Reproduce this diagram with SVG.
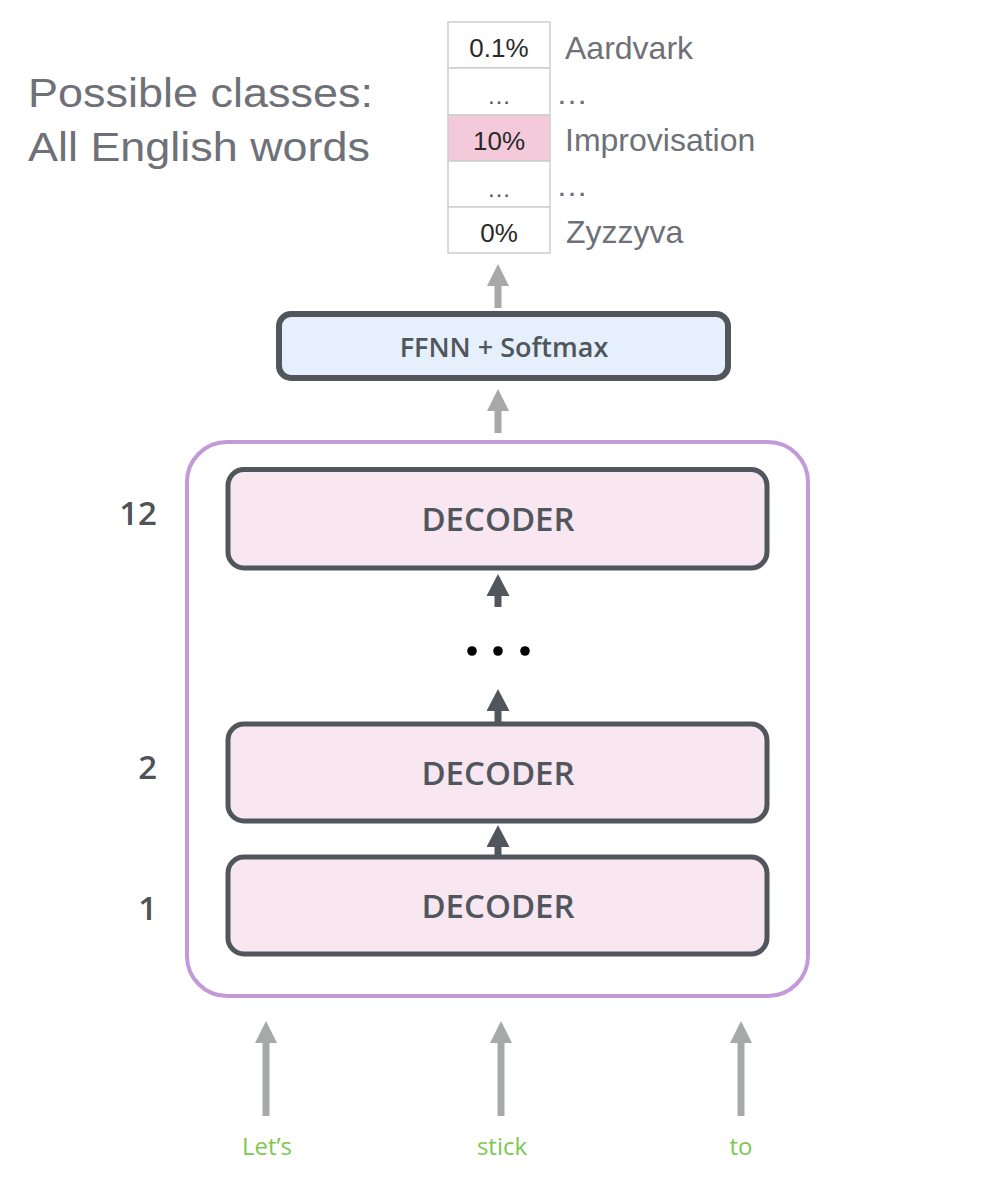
<svg xmlns="http://www.w3.org/2000/svg" width="999" height="1187" viewBox="0 0 999 1187">
<style>
.dec{fill:#f8e7f1;stroke:#51565d;stroke-width:5}
.dect{font-family:"Open Sans","Liberation Sans",sans-serif;font-weight:600;font-size:33px;fill:#51565d;text-anchor:middle}
.num{font-family:"Open Sans","Liberation Sans",sans-serif;font-weight:600;font-size:33px;fill:#505256;text-anchor:end}
.cell{fill:#ffffff;stroke:#cdcfcf;stroke-width:1.5}
.ct{font-family:"Liberation Sans",Arial,sans-serif;font-size:26px;fill:#2a2a2a;text-anchor:middle}
.cd{font-family:"Liberation Sans",Arial,sans-serif;font-size:24px;fill:#555;text-anchor:middle}
.lbl{font-family:"Liberation Sans",Arial,sans-serif;font-size:32px;fill:#6e7177}
.big{font-family:"Liberation Sans",Arial,sans-serif;font-size:41px;fill:#6e7177}
.word{font-family:"Open Sans","Liberation Sans",sans-serif;font-size:24px;fill:#7ec850;text-anchor:middle}
.ga{stroke:#a6a9a7;stroke-width:7;fill:none}
.da{stroke:#51565d;stroke-width:7;fill:none}
</style>
<defs>
<marker id="mg" viewBox="0 0 22 22" markerUnits="userSpaceOnUse" markerWidth="22" markerHeight="22" refX="0" refY="11" orient="auto"><path d="M0,0 L22,11 L0,22 z" fill="#a6a9a7"/></marker>
<marker id="md" viewBox="0 0 22 23" markerUnits="userSpaceOnUse" markerWidth="22" markerHeight="23" refX="0" refY="11.5" orient="auto"><path d="M0,0 L22,11.5 L0,23 z" fill="#51565d"/></marker>
</defs>
<rect width="999" height="1187" fill="#ffffff"/>

<g id="title">
<text class="big" x="28" y="107" textLength="345" lengthAdjust="spacingAndGlyphs">Possible classes:</text>
<text class="big" x="28" y="161" textLength="342" lengthAdjust="spacingAndGlyphs">All English words</text>
</g>

<g id="output-table">
<rect class="cell" x="448" y="22" width="102" height="46"/>
<rect class="cell" x="448" y="68" width="102" height="47"/>
<rect class="cell" x="448" y="115" width="102" height="46" style="fill:#f4cadb"/>
<rect class="cell" x="448" y="161" width="102" height="46"/>
<rect class="cell" x="448" y="207" width="102" height="46"/>
<text class="ct" x="499" y="57">0.1%</text>
<text class="cd" x="499" y="104">…</text>
<text class="ct" x="499" y="150">10%</text>
<text class="cd" x="499" y="197">…</text>
<text class="ct" x="499" y="242">0%</text>
<text class="lbl" x="565" y="59">Aardvark</text>
<text class="lbl" x="556" y="104">…</text>
<text class="lbl" x="565" y="151">Improvisation</text>
<text class="lbl" x="556" y="196">…</text>
<text class="lbl" x="566" y="243">Zyzzyva</text>
</g>

<g id="ffnn">
<rect x="279" y="314" width="449" height="64" rx="12" fill="#e5f0fc" stroke="#51565d" stroke-width="6"/>
<text x="504" y="357" font-family="'Open Sans','Liberation Sans',sans-serif" font-weight="600" font-size="27" fill="#51565d" text-anchor="middle">FFNN + Softmax</text>
</g>

<g id="decoder-stack">
<rect x="187" y="442" width="621" height="554" rx="40" fill="none" stroke="#c29ad8" stroke-width="4"/>
</g>

<g id="decoder-12">
<rect class="dec" x="228" y="469.5" width="539" height="98.5" rx="16"/>
<text class="dect" x="498" y="531">DECODER</text>
<text class="num" x="157" y="525">12</text>
</g>

<g id="ellipsis">
<circle cx="472" cy="651" r="4.8" fill="#000"/>
<circle cx="498" cy="651" r="4.8" fill="#000"/>
<circle cx="525" cy="651" r="4.8" fill="#000"/>
</g>

<g id="decoder-2">
<rect class="dec" x="228" y="724" width="539" height="97" rx="16"/>
<text class="dect" x="498" y="785">DECODER</text>
<text class="num" x="157" y="779">2</text>
</g>

<g id="decoder-1">
<rect class="dec" x="228" y="857" width="539" height="97" rx="16"/>
<text class="dect" x="498" y="918">DECODER</text>
<text class="num" x="157" y="920">1</text>
</g>

<g id="inputs">
<text class="word" x="267" y="1155">Let’s</text>
<text class="word" x="502" y="1155">stick</text>
<text class="word" x="741" y="1155">to</text>
</g>

<g id="connectors">
<line class="ga" x1="498" y1="308" x2="498" y2="286" marker-end="url(#mg)"/>
<line class="ga" x1="498" y1="433" x2="498" y2="411" marker-end="url(#mg)"/>
<line class="da" x1="498" y1="607" x2="498" y2="596" marker-end="url(#md)"/>
<line class="da" x1="498" y1="724" x2="498" y2="711" marker-end="url(#md)"/>
<line class="da" x1="498" y1="857" x2="498" y2="847" marker-end="url(#md)"/>
<line class="ga" x1="266" y1="1116" x2="266" y2="1043" marker-end="url(#mg)"/>
<line class="ga" x1="501" y1="1116" x2="501" y2="1043" marker-end="url(#mg)"/>
<line class="ga" x1="741" y1="1116" x2="741" y2="1043" marker-end="url(#mg)"/>
</g>
</svg>
